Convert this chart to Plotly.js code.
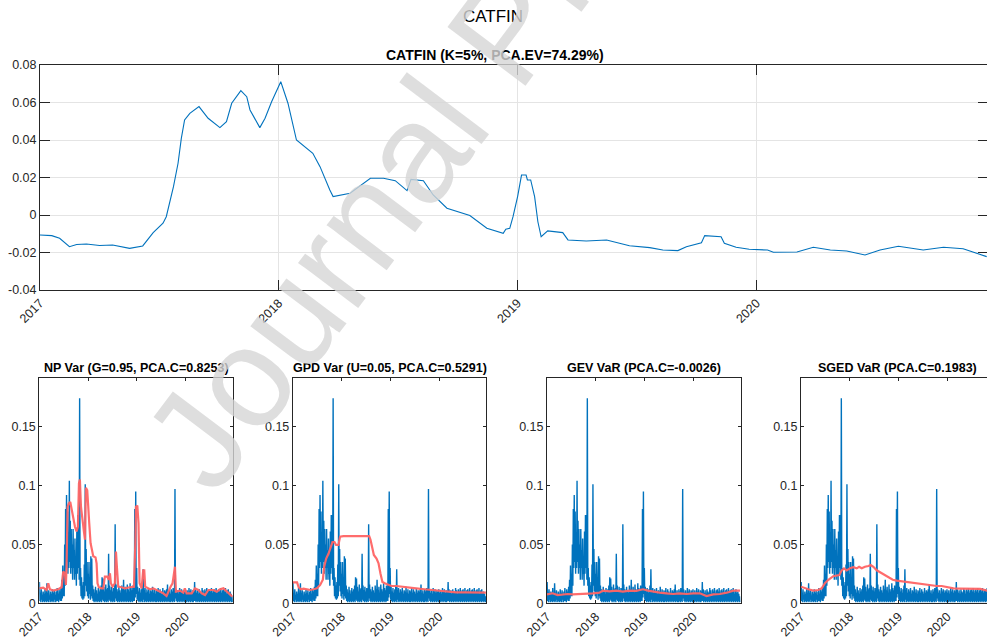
<!DOCTYPE html>
<html>
<head>
<meta charset="utf-8">
<script src="https://cdn.plot.ly/plotly-3.0.1.min.js"></script>
<style>
  html, body { margin: 0; padding: 0; overflow: hidden; background: #fff; }
  #fig { width: 1000px; height: 639px; }
</style>
</head>
<body>
<div id="fig"></div>
<script>
// ---- CATFIN aggregate index (top panel) ----
const catfinDates = [
  '2017-01-01','2017-01-19','2017-01-31','2017-02-15','2017-02-26','2017-03-13','2017-04-02','2017-04-22',
  '2017-05-18','2017-06-07','2017-06-23','2017-07-08','2017-07-13','2017-07-24','2017-07-31','2017-08-05',
  '2017-08-10','2017-08-18','2017-09-01','2017-09-15','2017-10-03','2017-10-13','2017-10-21','2017-11-04',
  '2017-11-13','2017-11-18','2017-12-03','2017-12-11','2017-12-21','2018-01-04','2018-01-15','2018-01-28',
  '2018-02-22','2018-03-05','2018-03-20','2018-03-25','2018-04-20','2018-05-21','2018-06-10','2018-06-28',
  '2018-07-16','2018-07-22','2018-08-10','2018-08-25','2018-09-15','2018-10-20','2018-11-15','2018-12-10',
  '2018-12-14','2018-12-20','2018-12-25','2019-01-01','2019-01-07','2019-01-14','2019-01-16','2019-01-21',
  '2019-01-27','2019-02-01','2019-02-06','2019-02-16','2019-03-11','2019-03-19','2019-04-16','2019-05-17',
  '2019-06-21','2019-07-22','2019-08-11','2019-09-03','2019-09-16','2019-10-09','2019-10-14','2019-11-08',
  '2019-11-13','2019-12-01','2019-12-21','2020-01-18','2020-01-27','2020-03-03','2020-03-28','2020-04-23',
  '2020-05-18','2020-06-15','2020-07-08','2020-08-05','2020-09-12','2020-10-13','2020-11-12','2020-11-30',
  '2020-12-18'
];
const catfinValues = [
  -0.0107,-0.0110,-0.0124,-0.0169,-0.0157,-0.0155,-0.0163,-0.0160,
  -0.0178,-0.0165,-0.0094,-0.0044,-0.0009,0.0151,0.0276,0.0409,
  0.0507,0.0542,0.0578,0.0516,0.0466,0.0498,0.0596,0.0663,
  0.0631,0.0560,0.0466,0.0516,0.0604,0.0711,0.0596,0.0400,
  0.0329,0.0258,0.0133,0.0098,0.0116,0.0196,0.0196,0.0183,
  0.0130,0.0190,0.0183,0.0107,0.0036,-0.0003,-0.0071,-0.0098,
  -0.0076,-0.0071,-0.0009,0.0098,0.0213,0.0213,0.0187,0.0187,
  0.0098,-0.0036,-0.0116,-0.0085,-0.0094,-0.0133,-0.0139,-0.0133,
  -0.0164,-0.0174,-0.0187,-0.0190,-0.0169,-0.0148,-0.0110,-0.0116,
  -0.0151,-0.0172,-0.0183,-0.0187,-0.0199,-0.0197,-0.0172,-0.0187,
  -0.0192,-0.0213,-0.0187,-0.0167,-0.0187,-0.0172,-0.0180,-0.0201,
  -0.0222
];

// ---- absolute returns, sampled twice a week from 2017-01-02 ----
const absReturns = [
  // 2017 Q1
  0.018,0.002, 0.009,0.001, 0.012,0.003, 0.006,0.001, 0.010,0.002, 0.008,0.001, 0.013,0.002, 0.007,0.001, 0.017,0.002, 0.009,0.001, 0.011,0.003, 0.006,0.001, 0.010,0.002,
  // 2017 Q2
  0.008,0.001, 0.012,0.002, 0.009,0.001, 0.011,0.003, 0.007,0.001, 0.010,0.002, 0.013,0.002, 0.008,0.001, 0.012,0.003, 0.010,0.002, 0.014,0.002, 0.020,0.004, 0.032,0.006,
  // 2017 Q3
  0.025,0.006, 0.050,0.015, 0.080,0.030, 0.092,0.035, 0.078,0.025, 0.060,0.030, 0.104,0.035, 0.070,0.025, 0.063,0.030, 0.050,0.020, 0.063,0.030, 0.045,0.020, 0.055,0.025,
  // 2017 Q4
  0.035,0.015, 0.061,0.025, 0.075,0.030, 0.075,0.020, 0.174,0.015, 0.030,0.006, 0.022,0.004, 0.015,0.003, 0.018,0.004, 0.033,0.006, 0.101,0.015, 0.046,0.010, 0.035,0.006,
  // 2018 Q1
  0.025,0.004, 0.035,0.008, 0.018,0.003, 0.040,0.006, 0.038,0.004, 0.015,0.002, 0.012,0.001, 0.009,0.002, 0.014,0.001, 0.011,0.002, 0.008,0.001, 0.013,0.002, 0.010,0.001,
  // 2018 Q2
  0.012,0.002, 0.015,0.001, 0.022,0.003, 0.021,0.002, 0.014,0.001, 0.010,0.002, 0.016,0.001, 0.012,0.002, 0.013,0.001, 0.042,0.003, 0.015,0.002, 0.011,0.001, 0.014,0.002,
  // 2018 Q3
  0.010,0.001, 0.013,0.002, 0.009,0.001, 0.067,0.004, 0.016,0.002, 0.012,0.001, 0.010,0.002, 0.014,0.001, 0.011,0.002, 0.009,0.001, 0.015,0.002, 0.012,0.001, 0.020,0.002,
  // 2018 Q4
  0.011,0.001, 0.014,0.002, 0.009,0.001, 0.016,0.002, 0.012,0.001, 0.010,0.002, 0.017,0.001, 0.013,0.002, 0.011,0.001, 0.015,0.002, 0.012,0.002, 0.080,0.005, 0.095,0.008,
  // 2019 Q1
  0.030,0.003, 0.014,0.002, 0.010,0.001, 0.013,0.002, 0.009,0.001, 0.012,0.002, 0.015,0.001, 0.029,0.003, 0.011,0.001, 0.013,0.002, 0.009,0.001, 0.012,0.002, 0.010,0.001,
  // 2019 Q2
  0.013,0.002, 0.008,0.001, 0.011,0.002, 0.010,0.001, 0.014,0.002, 0.009,0.001, 0.012,0.002, 0.008,0.001, 0.011,0.001, 0.010,0.002, 0.013,0.001, 0.009,0.002, 0.012,0.001,
  // 2019 Q3
  0.010,0.002, 0.008,0.001, 0.013,0.002, 0.009,0.001, 0.011,0.002, 0.010,0.001, 0.012,0.002, 0.016,0.001, 0.009,0.002, 0.011,0.001, 0.008,0.001, 0.012,0.002, 0.010,0.001,
  // 2019 Q4
  0.013,0.002, 0.010,0.001, 0.097,0.004, 0.012,0.002, 0.009,0.001, 0.011,0.002, 0.008,0.001, 0.013,0.002, 0.010,0.001, 0.012,0.002, 0.009,0.001, 0.011,0.002, 0.010,0.001,
  // 2020 Q1
  0.012,0.002, 0.009,0.001, 0.011,0.002, 0.008,0.001, 0.013,0.002, 0.010,0.001, 0.012,0.002, 0.009,0.001, 0.011,0.001, 0.010,0.002, 0.018,0.002, 0.012,0.001, 0.009,0.002,
  // 2020 Q2
  0.011,0.001, 0.008,0.002, 0.012,0.001, 0.010,0.002, 0.009,0.001, 0.013,0.002, 0.011,0.001, 0.008,0.002, 0.012,0.001, 0.010,0.002, 0.013,0.001, 0.009,0.002, 0.011,0.001,
  // 2020 Q3
  0.012,0.002, 0.010,0.001, 0.013,0.002, 0.009,0.001, 0.011,0.002, 0.012,0.001, 0.010,0.002, 0.013,0.001, 0.009,0.002, 0.011,0.001, 0.012,0.002, 0.010,0.001, 0.013,0.002,
  // 2020 Q4
  0.009,0.001, 0.011,0.002, 0.012,0.001, 0.010,0.002, 0.013,0.001, 0.008,0.002, 0.011,0.001, 0.012,0.002, 0.009,0.001, 0.010,0.002, 0.008,0.001, 0.006,0.001
];

// ---- VaR estimates (decimal-year time stamps) ----
const npYears = [
  2017.000,2017.082,2017.150,2017.185,2017.219,2017.287,2017.390,2017.458,2017.492,2017.527,2017.547,2017.561,
  2017.581,2017.609,2017.636,2017.657,2017.684,2017.732,2017.766,2017.793,2017.814,2017.834,2017.855,2017.882,
  2017.917,2017.937,2017.958,2017.985,2018.005,2018.026,2018.053,2018.081,2018.108,2018.156,2018.176,2018.197,
  2018.224,2018.279,2018.313,2018.347,2018.395,2018.430,2018.450,2018.471,2018.505,2018.553,2018.573,2018.594,
  2018.621,2018.689,2018.758,2018.860,2018.943,2018.970,2018.984,2019.011,2019.038,2019.059,2019.100,2019.134,
  2019.155,2019.175,2019.271,2019.339,2019.442,2019.544,2019.613,2019.647,2019.695,2019.736,2019.763,2019.784,
  2019.804,2019.886,2019.955,2019.989,2020.023,2020.126,2020.194,2020.263,2020.331,2020.399,2020.468,2020.570,
  2020.639,2020.707,2020.776,2020.844,2020.912,2020.960
];
const npVaR = [
  0.0127,0.0133,0.0113,0.0170,0.0119,0.0108,0.0119,0.0136,0.0270,0.0255,0.0156,0.0310,
  0.0820,0.0850,0.0860,0.0820,0.0740,0.0650,0.0610,0.0650,0.1020,0.1050,0.0820,0.0710,
  0.0610,0.0540,0.0980,0.0960,0.0860,0.0680,0.0510,0.0450,0.0400,0.0390,0.0340,0.0170,
  0.0136,0.0127,0.0127,0.0226,0.0226,0.0200,0.0255,0.0170,0.0141,0.0170,0.0440,0.0310,
  0.0141,0.0136,0.0127,0.0136,0.0141,0.0510,0.0820,0.0830,0.0680,0.0170,0.0127,0.0280,
  0.0280,0.0141,0.0119,0.0127,0.0108,0.0085,0.0062,0.0099,0.0140,0.0170,0.0280,0.0310,
  0.0099,0.0108,0.0090,0.0127,0.0085,0.0085,0.0127,0.0113,0.0085,0.0070,0.0113,0.0113,
  0.0099,0.0119,0.0127,0.0099,0.0070,0.0057
];

const gpdYears = [
  2017.000,2017.088,2017.122,2017.170,2017.224,2017.292,2017.360,2017.428,2017.496,2017.564,2017.618,2017.645,
  2017.686,2017.734,2017.768,2017.815,2017.856,2017.890,2017.938,2017.971,2018.039,2018.175,2018.379,2018.569,
  2018.596,2018.637,2018.664,2018.719,2018.760,2018.800,2018.841,2018.889,2018.957,2019.024,2019.126,2019.296,
  2019.364,2019.534,2019.704,2019.874,2020.010,2020.145,2020.349,2020.553,2020.757,2020.961
];
const gpdVaR = [
  0.0178,0.0178,0.0136,0.0119,0.0125,0.0119,0.0113,0.0119,0.0127,0.0156,0.0200,0.0310,
  0.0380,0.0420,0.0470,0.0520,0.0520,0.0495,0.0495,0.0566,0.0570,0.0570,0.0570,0.0570,
  0.0540,0.0450,0.0410,0.0380,0.0340,0.0255,0.0180,0.0170,0.0156,0.0147,0.0147,0.0141,
  0.0136,0.0127,0.0119,0.0113,0.0108,0.0099,0.0093,0.0093,0.0090,0.0090
];

const gevYears = [
  2017.000,2017.117,2017.220,2017.323,2017.426,2017.528,2017.666,2017.803,2017.940,2018.078,2018.146,2018.283,
  2018.421,2018.558,2018.695,2018.833,2018.970,2019.073,2019.176,2019.313,2019.450,2019.588,2019.725,2019.862,
  2019.999,2020.137,2020.274,2020.411,2020.548,2020.686,2020.823,2020.960
];
const gevVaR = [
  0.0076,0.0085,0.0070,0.0076,0.0079,0.0076,0.0079,0.0076,0.0085,0.0090,0.0108,0.0102,
  0.0108,0.0099,0.0108,0.0105,0.0119,0.0108,0.0099,0.0090,0.0085,0.0079,0.0085,0.0079,
  0.0085,0.0085,0.0062,0.0076,0.0079,0.0090,0.0108,0.0108
];

const sgedYears = [
  2017.000,2017.082,2017.151,2017.253,2017.356,2017.425,2017.493,2017.562,2017.664,2017.788,2017.836,2017.884,
  2017.938,2018.007,2018.075,2018.144,2018.192,2018.247,2018.315,2018.384,2018.432,2018.486,2018.555,2018.658,
  2018.760,2018.829,2018.884,2018.966,2019.103,2019.240,2019.377,2019.514,2019.651,2019.788,2019.890,2019.993,
  2020.130,2020.267,2020.404,2020.541,2020.678,2020.815,2020.952
];
const sgedVaR = [
  0.0141,0.0127,0.0119,0.0108,0.0113,0.0127,0.0170,0.0200,0.0230,0.0240,0.0280,0.0297,
  0.0280,0.0297,0.0306,0.0297,0.0310,0.0297,0.0310,0.0317,0.0325,0.0310,0.0280,0.0255,
  0.0230,0.0218,0.0200,0.0192,0.0184,0.0175,0.0170,0.0161,0.0156,0.0147,0.0147,0.0136,
  0.0127,0.0125,0.0122,0.0125,0.0122,0.0108,0.0105
];

const panelTitles = [
  'NP Var (G=0.95, PCA.C=0.8253)',
  'GPD Var (U=0.05, PCA.C=0.5291)',
  'GEV VaR (PCA.C=-0.0026)',
  'SGED VaR (PCA.C=0.1983)'
];
const yearTicks = ['2017-01-01', '2018-01-01', '2019-01-01', '2020-01-01'];
const yearLabels = ['2017', '2018', '2019', '2020'];
const topTickVals = [-0.04, -0.02, 0, 0.02, 0.04, 0.06, 0.08];
const topTickText = ['-0.04', '-0.02', '0', '0.02', '0.04', '0.06', '0.08'];
const lowTickVals = [0, 0.05, 0.1, 0.15];
const lowTickText = ['0', '0.05', '0.1', '0.15'];

// ---- helpers ----
function yearToDate(y) {
  const yr = Math.floor(y);
  const a = Date.UTC(yr, 0, 1), b = Date.UTC(yr + 1, 0, 1);
  return new Date(a + (y - yr) * (b - a)).toISOString().slice(0, 10);
}
const returnDates = absReturns.map((_, i) =>
  new Date(Date.UTC(2017, 0, 2) + i * 3.5 * 86400000).toISOString().slice(0, 16).replace('T', ' '));

const FONT = '"Liberation Sans", Arial, Helvetica, sans-serif';
const INK = '#262626';
const BLUE = '#0072BD';
const RED = '#FF6464';
const X_RANGE = ['2017-01-01', '2020-12-20'];

function axis(extra) {
  return Object.assign({
    showline: true, linecolor: INK, linewidth: 1, mirror: 'ticks',
    ticks: 'inside', tickcolor: INK, tickwidth: 1,
    tickfont: { family: FONT, size: 12.5, color: INK },
    zeroline: false, showgrid: false, fixedrange: true
  }, extra);
}

const W = 1000, H = 639;
const px = v => v / W;
const py = v => 1 - v / H;

const lowerX = [[39.3, 232.8], [292.8, 486.3], [547.0, 740.5], [801.0, 994.5]];
const lowerY = [py(603.3), py(378.3)];

const varSeries = [
  [npYears, npVaR], [gpdYears, gpdVaR], [gevYears, gevVaR], [sgedYears, sgedVaR]
];

const traces = [{
  type: 'scatter', mode: 'lines', x: catfinDates, y: catfinValues,
  xaxis: 'x', yaxis: 'y', line: { color: BLUE, width: 1.1 }, hoverinfo: 'skip'
}];

function label(text, x, y, size, extra) {
  return Object.assign({
    text: text, xref: 'paper', yref: 'paper', x: px(x), y: py(y),
    xanchor: 'center', yanchor: 'middle', showarrow: false,
    font: { family: FONT, size: size, color: '#000' }
  }, extra || {});
}

const layout = {
  width: W, height: H,
  margin: { l: 0, r: 0, t: 0, b: 0 },
  paper_bgcolor: '#fff', plot_bgcolor: '#fff',
  showlegend: false,
  font: { family: FONT, color: INK },
  xaxis: axis({
    type: 'date', range: X_RANGE, domain: [px(40), px(988)], anchor: 'y',
    tickvals: yearTicks, ticktext: yearLabels, tickangle: -45, ticklen: 10,
    showgrid: true, gridcolor: '#e4e4e4', gridwidth: 1
  }),
  yaxis: axis({
    range: [-0.04, 0.08], domain: [py(290), py(65)], anchor: 'x',
    tickvals: topTickVals, ticktext: topTickText, ticklen: 10,
    showgrid: true, gridcolor: '#e4e4e4', gridwidth: 1
  }),
  annotations: [
    label('CATFIN', 493, 16, 17),
    label('<b>CATFIN (K=5%, PCA.EV=74.29%)</b>', 495, 55, 14)
  ]
};

lowerX.forEach((dom, k) => {
  const n = k + 2;
  const xa = 'x' + n, ya = 'y' + n;
  traces.push({
    type: 'scatter', mode: 'lines', x: returnDates, y: absReturns,
    xaxis: xa, yaxis: ya, line: { color: BLUE, width: 1.4 }, hoverinfo: 'skip'
  });
  traces.push({
    type: 'scatter', mode: 'lines', x: varSeries[k][0].map(yearToDate), y: varSeries[k][1],
    xaxis: xa, yaxis: ya, line: { color: RED, width: 2.2 }, opacity: 0.95, hoverinfo: 'skip'
  });
  layout['xaxis' + n] = axis({
    type: 'date', range: X_RANGE, domain: [px(dom[0]), px(dom[1])], anchor: ya,
    tickvals: yearTicks, ticktext: yearLabels, tickangle: -45, ticklen: 3
  });
  layout['yaxis' + n] = axis({
    range: [0, 0.191], domain: lowerY, anchor: xa,
    tickvals: lowTickVals, ticktext: lowTickText, ticklen: 3
  });
  layout.annotations.push(label('<b>' + panelTitles[k] + '</b>', (dom[0] + dom[1]) / 2, 368, 12.5));
});

// diagonal "Journal Pre-proof" stamp laid over the figure
layout.annotations.push(label('Journal Pre-proof', 505, 30, 142, {
  textangle: -53,
  font: { family: FONT, size: 142, color: 'rgba(214,214,214,0.8)' }
}));

Plotly.newPlot('fig', traces, layout, { staticPlot: true, displayModeBar: false });
</script>
</body>
</html>
